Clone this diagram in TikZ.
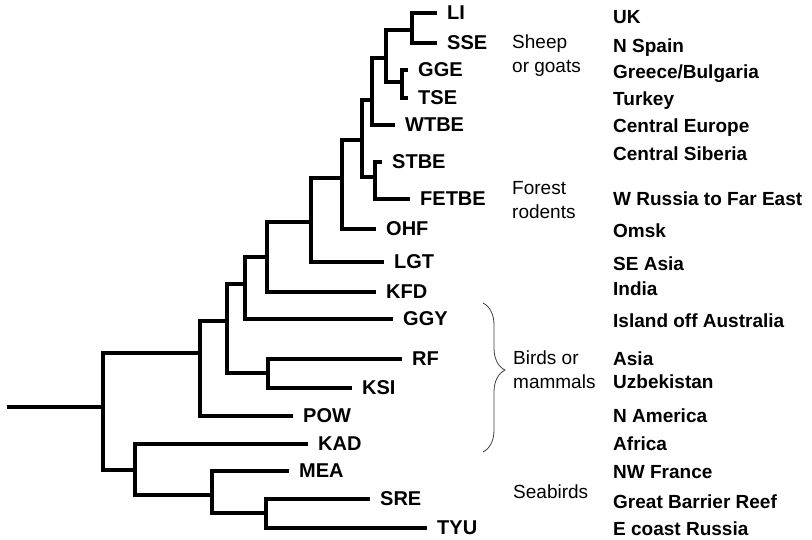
\documentclass[tikz,border=0pt]{standalone}
\usepackage{fontspec}
\setmainfont{Liberation Sans}
\usepackage{tikz}
\usetikzlibrary{decorations.pathreplacing}

\begin{document}
\begin{tikzpicture}[
  x=1pt,y=-1pt,
  branch/.style={line width=4.3pt},
  leaf/.style={anchor=west,inner xsep=10pt,inner ysep=0pt,
               font=\fontsize{20}{24}\selectfont\bfseries},
  place/.style={anchor=base west,inner sep=0pt,
                font=\fontsize{19}{23}\selectfont\bfseries},
  group/.style={anchor=base west,align=left,inner sep=0pt,
                font=\fontsize{19}{24}\selectfont},
  bracket/.style={decorate,decoration={brace,amplitude=22pt,aspect=0.45},
                  line width=0.8pt,black!75}
]
\useasboundingbox (0,0) rectangle (812,539);
% inner nodes of the tree
\coordinate (base) at (7,407);
\coordinate (root) at (103,407);
\coordinate (nLS) at (412,30);
\coordinate (nGT) at (402,82);
\coordinate (nA) at (386,58);
\coordinate (nB) at (372,100);
\coordinate (nSF) at (375,177);
\coordinate (nC) at (362,140);
\coordinate (nD) at (342,178);
\coordinate (nE) at (311,222);
\coordinate (nF) at (267,257);
\coordinate (nG) at (245,284);
\coordinate (nRK) at (268,373);
\coordinate (nH) at (227,321);
\coordinate (nI) at (200,353);
\coordinate (nJ) at (135,470);
\coordinate (nK) at (212,495);
\coordinate (nL) at (266,513);
% tips
\node[leaf] (LI) at (437,13) {LI};
\node[leaf] (SSE) at (437,43) {SSE};
\node[leaf] (GGE) at (408,70) {GGE};
\node[leaf] (TSE) at (408,98) {TSE};
\node[leaf] (WTBE) at (395,125) {WTBE};
\node[leaf] (STBE) at (382,162) {STBE};
\node[leaf] (FETBE) at (410,199) {FETBE};
\node[leaf] (OHF) at (376,229) {OHF};
\node[leaf] (LGT) at (384,262) {LGT};
\node[leaf] (KFD) at (376,292) {KFD};
\node[leaf] (GGY) at (393,319) {GGY};
\node[leaf] (RF) at (402,359) {RF};
\node[leaf] (KSI) at (352,388) {KSI};
\node[leaf] (POW) at (293,416) {POW};
\node[leaf] (KAD) at (308,444) {KAD};
\node[leaf] (MEA) at (289,471) {MEA};
\node[leaf] (SRE) at (370,499) {SRE};
\node[leaf] (TYU) at (427,528) {TYU};
% branches
\draw[branch] (base) -- (root);
\draw[branch] (root) |- (nI);
\draw[branch] (root) |- (nJ);
\draw[branch] (nI) |- (nH);
\draw[branch] (nI) |- (POW.west);
\draw[branch] (nH) |- (nG);
\draw[branch] (nH) |- (nRK);
\draw[branch] (nRK) |- (RF.west);
\draw[branch] (nRK) |- (KSI.west);
\draw[branch] (nG) |- (nF);
\draw[branch] (nG) |- (GGY.west);
\draw[branch] (nF) |- (nE);
\draw[branch] (nF) |- (KFD.west);
\draw[branch] (nE) |- (nD);
\draw[branch] (nE) |- (LGT.west);
\draw[branch] (nD) |- (nC);
\draw[branch] (nD) |- (OHF.west);
\draw[branch] (nC) |- (nB);
\draw[branch] (nC) |- (nSF);
\draw[branch] (nSF) |- (STBE.west);
\draw[branch] (nSF) |- (FETBE.west);
\draw[branch] (nB) |- (nA);
\draw[branch] (nB) |- (WTBE.west);
\draw[branch] (nA) |- (nLS);
\draw[branch] (nA) |- (nGT);
\draw[branch] (nLS) |- (LI.west);
\draw[branch] (nLS) |- (SSE.west);
\draw[branch] (nGT) |- (GGE.west);
\draw[branch] (nGT) |- (TSE.west);
\draw[branch] (nJ) |- (KAD.west);
\draw[branch] (nJ) |- (nK);
\draw[branch] (nK) |- (MEA.west);
\draw[branch] (nK) |- (nL);
\draw[branch] (nL) |- (SRE.west);
\draw[branch] (nL) |- (TYU.west);
% hosts
\node[group] (sheep) at (512,72) {Sheep\\or goats};
\node[group] (rodents) at (512,218) {Forest\\rodents};
\node[group] (birds) at (513,388) {Birds or\\mammals};
\node[group] (seabirds) at (513,498) {Seabirds};
\coordinate (brtop) at (483,303);
\coordinate (brbot) at (483,452);
\draw[bracket] (brtop) -- (brbot);
% places
\node[place] (UK) at (613,23) {UK};
\node[place] (spain) at (613,52) {N Spain};
\node[place] (greece) at (613,78) {Greece/Bulgaria};
\node[place] (turkey) at (613,105) {Turkey};
\node[place] (ceurope) at (613,132) {Central Europe};
\node[place] (siberia) at (613,160) {Central Siberia};
\node[place] (russia) at (613,205) {W Russia to Far East};
\node[place] (omsk) at (613,237) {Omsk};
\node[place] (seasia) at (613,270) {SE Asia};
\node[place] (india) at (613,295) {India};
\node[place] (island) at (613,327) {Island off Australia};
\node[place] (asia) at (613,365) {Asia};
\node[place] (uzbek) at (613,388) {Uzbekistan};
\node[place] (namerica) at (613,422) {N America};
\node[place] (africa) at (613,450) {Africa};
\node[place] (france) at (613,478) {NW France};
\node[place] (reef) at (613,508) {Great Barrier Reef};
\node[place] (ecoast) at (613,535) {E coast Russia};
\end{tikzpicture}
\end{document}
